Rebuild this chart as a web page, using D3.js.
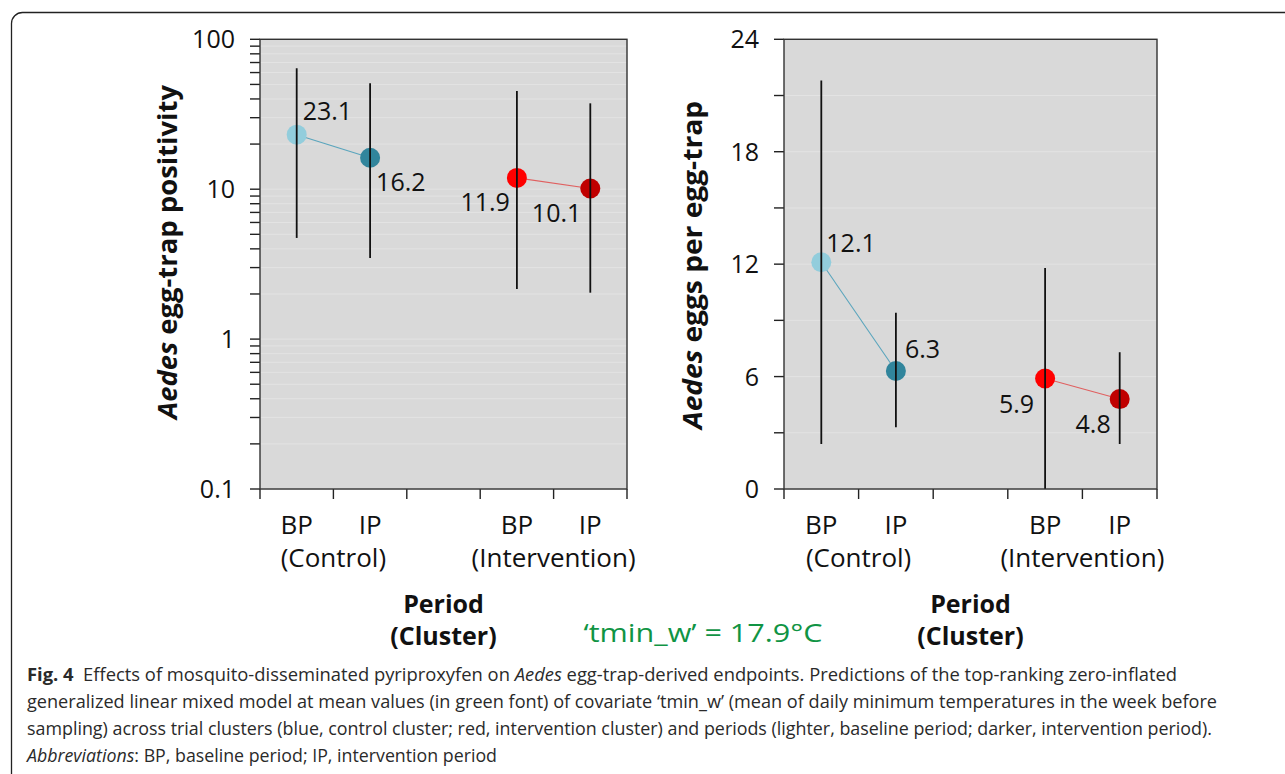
<!DOCTYPE html>
<html lang="en">
<head>
  <meta charset="UTF-8">
  <title>Aedes egg-trap endpoints</title>
  <script src="https://d3js.org/d3.v7.min.js"></script>
  <style>
    body { margin: 0; padding: 0; background: #fff; }
    svg { display: block; }
    text { font-family: "Open Sans", sans-serif; fill: #111; }
    .caption text { fill: #2a2a2a; }
  </style>
</head>
<body>
  <svg></svg>
  <script>
    // === data ===
    const slots = ["BP-C", "IP-C", "gap", "BP-I", "IP-I"];
    const pointSlots = ["BP-C", "IP-C", "BP-I", "IP-I"];
    const periodLabels = ["BP", "IP", "BP", "IP"];
    const clusterLabels = ["(Control)", "(Intervention)"];
    const pointColors = ["#92cddc", "#31859c", "#ff0000", "#c00000"];
    const lineColors = ["#5aa5bd", "#e06060"];

    const positivity = [23.1, 16.2, 11.9, 10.1];
    const positivityLow = [4.73, 3.48, 2.16, 2.04];
    const positivityHigh = [64.1, 50.9, 45.2, 37.4];
    const positivityTicks = [0.1, 1, 10, 100];

    const eggs = [12.1, 6.3, 5.9, 4.8];
    const eggsLow = [2.4, 3.3, 0, 2.4];
    const eggsHigh = [21.8, 9.4, 11.8, 7.3];
    const eggsTicks = [0, 6, 12, 18, 24];

    const tminLabel = "\u2018tmin_w\u2019 = 17.9\u00b0C";

    // label placement next to each point (anchor, dx, dy)
    const leftLabelPos = [["start", 6, -15], ["start", 6, 33], ["end", -7, 33], ["end", -9, 33]];
    const rightLabelPos = [["start", 5, -10], ["start", 9, -13], ["end", -11, 35], ["end", -9, 34]];

    const W = 1285, H = 774;
    const plotTop = 39.3, plotBottom = 489;

    const svg = d3.select("svg").attr("width", W).attr("height", H);

    // outer frame of the figure (runs off the right / bottom edge)
    svg.append("rect")
      .attr("x", 11.5).attr("y", 12.5)
      .attr("width", 1400).attr("height", 900)
      .attr("rx", 11)
      .attr("fill", "none").attr("stroke", "#222").attr("stroke-width", 1.3);

    function drawPanel(opt) {
      const g = svg.append("g");
      const x = d3.scaleBand().domain(slots).range([opt.x0, opt.x1]).padding(0);
      const y = opt.y;

      // plot background
      g.append("rect")
        .attr("x", opt.x0).attr("y", plotTop)
        .attr("width", opt.x1 - opt.x0).attr("height", plotBottom - plotTop)
        .attr("fill", "#d9d9d9");

      // faint grid at every tick
      g.selectAll(".grid").data(opt.minor.concat(opt.major)).enter()
        .append("line")
        .attr("x1", opt.x0).attr("x2", opt.x1)
        .attr("y1", d => y(d)).attr("y2", d => y(d))
        .attr("stroke", "#e3e3e3").attr("stroke-width", 1);

      // y axis ticks
      g.selectAll(".ytick").data(opt.minor.concat(opt.major)).enter()
        .append("line")
        .attr("x1", opt.x0 - 10).attr("x2", opt.x0)
        .attr("y1", d => y(d)).attr("y2", d => y(d))
        .attr("stroke", "#222").attr("stroke-width", 1.4);

      g.selectAll(".ylab").data(opt.major).enter()
        .append("text")
        .attr("x", opt.x0 - 25).attr("y", d => y(d))
        .attr("dy", "0.36em")
        .attr("text-anchor", "end")
        .style("font-size", "25px")
        .text(opt.fmt);

      // x ticks at band edges
      const edges = slots.map(s => x(s)).concat([opt.x1]);
      g.selectAll(".xtick").data(edges).enter()
        .append("line")
        .attr("x1", d => d).attr("x2", d => d)
        .attr("y1", plotBottom).attr("y2", plotBottom + 10)
        .attr("stroke", "#222").attr("stroke-width", 1.4);

      g.selectAll(".plab").data(pointSlots).enter()
        .append("text")
        .attr("x", d => x(d) + x.bandwidth() / 2)
        .attr("y", 534)
        .attr("text-anchor", "middle")
        .style("font-size", "26px")
        .text((d, i) => periodLabels[i]);

      g.selectAll(".clab").data(["IP-C", "IP-I"]).enter()
        .append("text")
        .attr("x", d => x(d))
        .attr("y", 567)
        .attr("text-anchor", "middle")
        .style("font-size", "26px")
        .text((d, i) => clusterLabels[i]);

      // x title
      const cx = (opt.x0 + opt.x1) / 2;
      g.append("text").attr("x", cx).attr("y", 613)
        .attr("text-anchor", "middle")
        .style("font-size", "25px").style("font-weight", "bold")
        .text("Period");
      g.append("text").attr("x", cx).attr("y", 645)
        .attr("text-anchor", "middle")
        .style("font-size", "25px").style("font-weight", "bold")
        .text("(Cluster)");

      // y title
      const yt = g.append("text")
        .attr("transform", `translate(${opt.titleX},${opt.titleY}) rotate(-90)`)
        .attr("text-anchor", "middle")
        .attr("textLength", opt.titleLen).attr("lengthAdjust", "spacingAndGlyphs")
        .style("font-size", "27px").style("font-weight", "bold");
      yt.append("tspan").style("font-style", "italic").text("Aedes");
      yt.append("tspan").text(" " + opt.title);

      // connecting lines per cluster
      const px = i => x(pointSlots[i]) + x.bandwidth() / 2;
      [[0, 1], [2, 3]].forEach((pair, k) => {
        g.append("line")
          .attr("x1", px(pair[0])).attr("y1", y(opt.values[pair[0]]))
          .attr("x2", px(pair[1])).attr("y2", y(opt.values[pair[1]]))
          .attr("stroke", lineColors[k]).attr("stroke-width", 1.1);
      });

      // points
      g.selectAll(".pt").data(opt.values).enter()
        .append("circle")
        .attr("cx", (d, i) => px(i))
        .attr("cy", d => y(d))
        .attr("r", 10)
        .attr("fill", (d, i) => pointColors[i]);

      // error bars (drawn over the points)
      g.selectAll(".err").data(opt.values).enter()
        .append("line")
        .attr("x1", (d, i) => px(i)).attr("x2", (d, i) => px(i))
        .attr("y1", (d, i) => y(opt.low[i]))
        .attr("y2", (d, i) => y(opt.high[i]))
        .attr("stroke", "#111").attr("stroke-width", 1.8);

      // value labels
      g.selectAll(".val").data(opt.values).enter()
        .append("text")
        .attr("x", (d, i) => px(i) + opt.labelPos[i][1])
        .attr("y", (d, i) => y(d) + opt.labelPos[i][2])
        .attr("text-anchor", (d, i) => opt.labelPos[i][0])
        .style("font-size", "25px")
        .text(d => d3.format(".1f")(d));

      // plot frame
      g.append("rect")
        .attr("x", opt.x0).attr("y", plotTop)
        .attr("width", opt.x1 - opt.x0).attr("height", plotBottom - plotTop)
        .attr("fill", "none").attr("stroke", "#333").attr("stroke-width", 1.4);
    }

    // minor ticks of the log axis
    const logMinor = [];
    [0.1, 1, 10].forEach(dec => { for (let m = 2; m <= 9; m++) logMinor.push(+(dec * m).toPrecision(3)); });

    drawPanel({
      x0: 260, x1: 627,
      y: d3.scaleLog().domain([0.1, 100]).range([plotBottom, plotTop]),
      major: positivityTicks,
      minor: logMinor,
      fmt: d => String(d),
      values: positivity, low: positivityLow, high: positivityHigh,
      labelPos: leftLabelPos,
      title: "egg-trap positivity",
      titleX: 177, titleY: 252, titleLen: 334
    });

    drawPanel({
      x0: 784, x1: 1157,
      y: d3.scaleLinear().domain([0, 24]).range([plotBottom, plotTop]),
      major: eggsTicks,
      minor: [3, 9, 15, 21],
      fmt: d => String(d),
      values: eggs, low: eggsLow, high: eggsHigh,
      labelPos: rightLabelPos,
      title: "eggs per egg-trap",
      titleX: 702, titleY: 265, titleLen: 328
    });

    // covariate value in green
    svg.append("text")
      .attr("x", 703).attr("y", 642)
      .attr("text-anchor", "middle")
      .attr("textLength", 239).attr("lengthAdjust", "spacingAndGlyphs")
      .style("font-size", "26px").style("fill", "#109444")
      .text(tminLabel);

    // caption
    const cap = svg.append("g").attr("class", "caption");
    const capLines = [
      [["Fig. 4", "bold", "normal"], ["  Effects of mosquito-disseminated pyriproxyfen on ", "normal", "normal"], ["Aedes", "normal", "italic"], [" egg-trap-derived endpoints. Predictions of the top-ranking zero-inflated", "normal", "normal"]],
      [["generalized linear mixed model at mean values (in green font) of covariate \u2018tmin_w\u2019 (mean of daily minimum temperatures in the week before", "normal", "normal"]],
      [["sampling) across trial clusters (blue, control cluster; red, intervention cluster) and periods (lighter, baseline period; darker, intervention period).", "normal", "normal"]],
      [["Abbreviations", "normal", "italic"], [": BP, baseline period; IP, intervention period", "normal", "normal"]]
    ];
    const capWidths = [1150, 1190, 1185, 470];
    capLines.forEach((parts, i) => {
      const t = cap.append("text")
        .attr("x", 27).attr("y", 681 + i * 27)
        .attr("textLength", capWidths[i]).attr("lengthAdjust", "spacingAndGlyphs")
        .style("font-size", "18px")
        .attr("xml:space", "preserve");
      parts.forEach(p => t.append("tspan")
        .style("font-weight", p[1]).style("font-style", p[2])
        .text(p[0]));
    });
  </script>
</body>
</html>
